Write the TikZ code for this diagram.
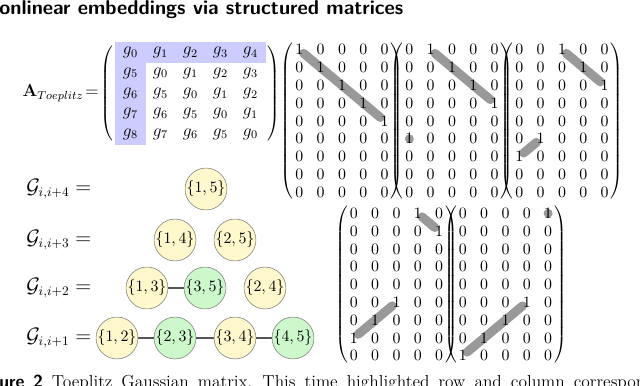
\documentclass[tikz,border=0pt]{standalone}
\usepackage{amsmath}
\usepackage{xcolor}
\usepackage{tikz}
\usetikzlibrary{matrix,backgrounds}
\definecolor{toepBlue}{HTML}{CCCCFF}
\definecolor{bandGray}{HTML}{999999}
\definecolor{pairYellow}{HTML}{FFF8CC}
\definecolor{pairGreen}{HTML}{CCF8CC}
\definecolor{pairEdge}{HTML}{555555}

\begin{document}
\begin{tikzpicture}[
    x=0.69pt, y=-0.69pt,
    toep/.style={matrix of math nodes, inner sep=0pt, font=\large,
        nodes={minimum width=20.7pt, minimum height=14pt, inner sep=0pt},
        left delimiter=(, right delimiter=),
        every left delimiter/.style={xshift=4pt},
        every right delimiter/.style={xshift=-3.6pt}},
    bits/.style={matrix of math nodes, inner sep=0pt, column sep=9.2pt, row sep=0.28pt,
        nodes={minimum width=5.5pt, minimum height=12pt, inner sep=0pt},
        font=\fontsize{11}{13}\selectfont,
        left delimiter=(, right delimiter=),
        every left delimiter/.style={xshift=1.6pt},
        every right delimiter/.style={xshift=-1.6pt}},
    band/.style={bandGray, line width=6.2pt, line cap=round},
    lbl/.style={anchor=west, inner sep=0pt, font=\fontsize{13.4}{16}\selectfont},
    pair/.style={circle, draw=gray, thin, minimum size=28pt, inner sep=0pt, font=\fontsize{10.8}{13}\selectfont},
    link/.style={pairEdge, line width=0.8pt}
]
\useasboundingbox (0,0) rectangle (640,385);
\clip (0,0) rectangle (640,385);

% Heading and caption, cut by the page edge.
\node[anchor=base west, inner sep=0pt, font=\fontsize{13.8}{16}\selectfont\sffamily\bfseries] (title) at (-1,14.5) {onlinear embeddings via structured matrices};
\node[anchor=base west, inner sep=0pt, font=\large] (caption) at (-1,387) {\spaceskip=6.2pt\relax\xspaceskip=7pt\relax\textsf{\bfseries ure 2} Toeplitz Gaussian matrix. This time highlighted row and column correspon};

% Toeplitz matrix.
\node[anchor=east, inner sep=0pt, font=\large] (toeplbl) at (99,93) {$\mathbf{A}_{Toeplitz}\!=$};
\matrix[toep] (toep) at (190.5,93.5) {
    g_0 & g_1 & g_2 & g_3 & g_4 \\
    g_5 & g_0 & g_1 & g_2 & g_3 \\
    g_6 & g_5 & g_0 & g_1 & g_2 \\
    g_7 & g_6 & g_5 & g_0 & g_1 \\
    g_8 & g_7 & g_6 & g_5 & g_0 \\
};

% Shift matrices.
\matrix[bits] (sh0) at (342,121) {
    1 & 0 & 0 & 0 & 0 \\
    0 & 1 & 0 & 0 & 0 \\
    0 & 0 & 1 & 0 & 0 \\
    0 & 0 & 0 & 1 & 0 \\
    0 & 0 & 0 & 0 & 1 \\
    0 & 0 & 0 & 0 & 0 \\
    0 & 0 & 0 & 0 & 0 \\
    0 & 0 & 0 & 0 & 0 \\
    0 & 0 & 0 & 0 & 0 \\
};
\matrix[bits] (sh1) at (452,121) {
    0 & 1 & 0 & 0 & 0 \\
    0 & 0 & 1 & 0 & 0 \\
    0 & 0 & 0 & 1 & 0 \\
    0 & 0 & 0 & 0 & 1 \\
    0 & 0 & 0 & 0 & 0 \\
    1 & 0 & 0 & 0 & 0 \\
    0 & 0 & 0 & 0 & 0 \\
    0 & 0 & 0 & 0 & 0 \\
    0 & 0 & 0 & 0 & 0 \\
};
\matrix[bits] (sh2) at (562,121) {
    0 & 0 & 1 & 0 & 0 \\
    0 & 0 & 0 & 1 & 0 \\
    0 & 0 & 0 & 0 & 1 \\
    0 & 0 & 0 & 0 & 0 \\
    0 & 0 & 0 & 0 & 0 \\
    0 & 1 & 0 & 0 & 0 \\
    1 & 0 & 0 & 0 & 0 \\
    0 & 0 & 0 & 0 & 0 \\
    0 & 0 & 0 & 0 & 0 \\
};
\matrix[bits] (sh3) at (396.5,284.5) {
    0 & 0 & 0 & 1 & 0 \\
    0 & 0 & 0 & 0 & 1 \\
    0 & 0 & 0 & 0 & 0 \\
    0 & 0 & 0 & 0 & 0 \\
    0 & 0 & 0 & 0 & 0 \\
    0 & 0 & 1 & 0 & 0 \\
    0 & 1 & 0 & 0 & 0 \\
    1 & 0 & 0 & 0 & 0 \\
    0 & 0 & 0 & 0 & 0 \\
};
\matrix[bits] (sh4) at (505.5,284.5) {
    0 & 0 & 0 & 0 & 1 \\
    0 & 0 & 0 & 0 & 0 \\
    0 & 0 & 0 & 0 & 0 \\
    0 & 0 & 0 & 0 & 0 \\
    0 & 0 & 0 & 0 & 0 \\
    0 & 0 & 0 & 1 & 0 \\
    0 & 0 & 1 & 0 & 0 \\
    0 & 1 & 0 & 0 & 0 \\
    1 & 0 & 0 & 0 & 0 \\
};

% Highlights behind the entries.
\begin{scope}[on background layer]
    \fill[toepBlue] (toep-1-1.north west) rectangle (toep-1-5.south east);
    \fill[toepBlue] (toep-1-1.north west) rectangle (toep-5-1.south east);
    \draw[band] (sh0-1-1) -- (sh0-5-5);
    \draw[band] (sh1-1-2) -- (sh1-4-5);
    \fill[bandGray] (sh1-6-1) circle (3.1pt);
    \draw[band] (sh2-1-3) -- (sh2-3-5);
    \draw[band] (sh2-7-1) -- (sh2-6-2);
    \draw[band] (sh3-1-4) -- (sh3-2-5);
    \draw[band] (sh3-8-1) -- (sh3-6-3);
    \fill[bandGray] (sh4-1-5) circle (3.1pt);
    \draw[band] (sh4-9-1) -- (sh4-6-4);
\end{scope}

% Pair graphs.
\node[lbl] (g4) at (26,189) {$\mathcal{G}_{i,i+4} =$};
\node[lbl] (g3) at (26,240) {$\mathcal{G}_{i,i+3} =$};
\node[lbl] (g2) at (26,288) {$\mathcal{G}_{i,i+2} =$};
\node[lbl] (g1) at (26,338) {$\mathcal{G}_{i,i+1} =$};

\node[pair, fill=pairYellow] (p15) at (206,189) {$\{1,5\}$};
\node[pair, fill=pairYellow] (p14) at (175,240) {$\{1,4\}$};
\node[pair, fill=pairYellow] (p25) at (235,240) {$\{2,5\}$};
\node[pair, fill=pairYellow] (p13) at (147,288) {$\{1,3\}$};
\node[pair, fill=pairGreen] (p35) at (205,288) {$\{3,5\}$};
\node[pair, fill=pairYellow] (p24) at (265,288) {$\{2,4\}$};
\node[pair, fill=pairYellow] (p12) at (117,338) {$\{1,2\}$};
\node[pair, fill=pairGreen] (p23) at (175,338) {$\{2,3\}$};
\node[pair, fill=pairYellow] (p34) at (235,338) {$\{3,4\}$};
\node[pair, fill=pairGreen] (p45) at (293,338) {$\{4,5\}$};

\draw[link] (p13) -- (p35);
\draw[link] (p12) -- (p23) -- (p34) -- (p45);
\end{tikzpicture}
\end{document}
